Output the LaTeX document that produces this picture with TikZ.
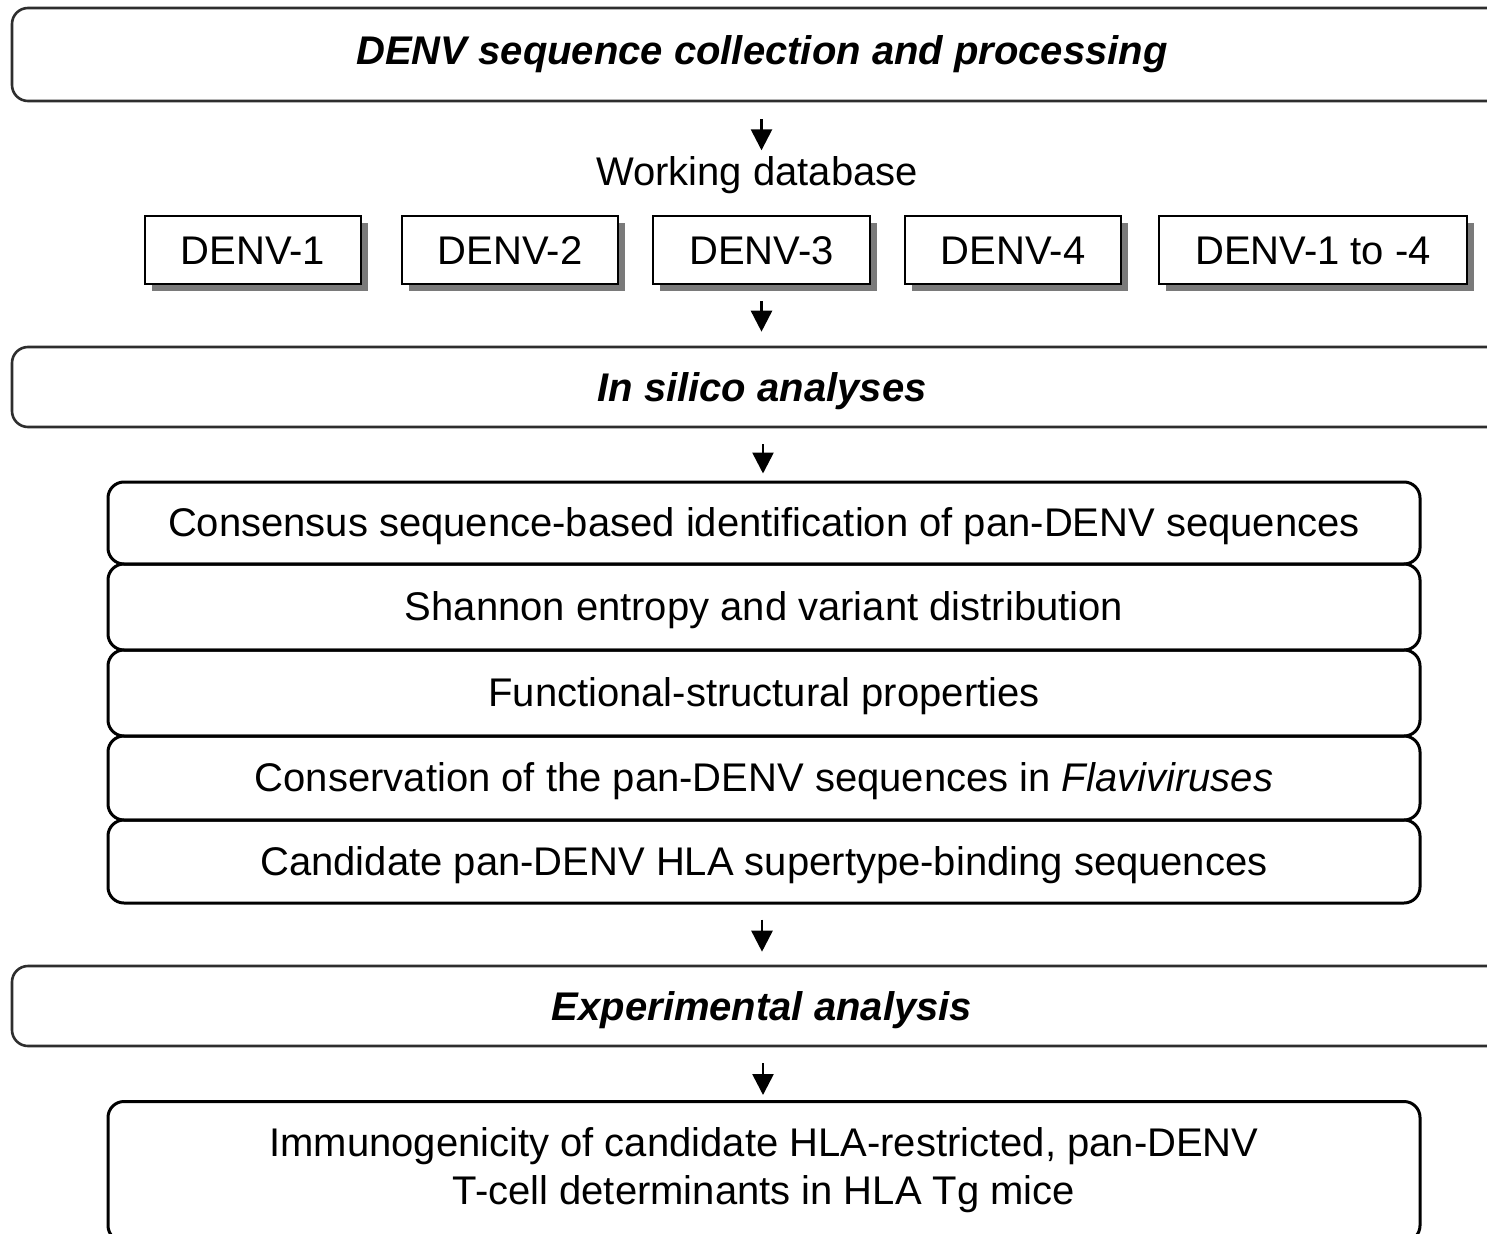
\documentclass[tikz,border=0pt]{standalone}
\usepackage{fontspec}
\setmainfont{Liberation Sans}
\usetikzlibrary{arrows.meta,shadows}
\tikzset{
  banner/.style={draw=black!82,line width=2.6pt,rounded corners=16pt,minimum width=1500pt,inner sep=0pt,
    font=\fontsize{40}{48}\selectfont\bfseries\itshape,text height=29pt,text depth=0pt},
  dbox/.style={draw=black,line width=2.6pt,fill=white,inner sep=0pt,minimum height=68pt,
    font=\fontsize{40}{48}\selectfont,text height=29pt,text depth=0pt,
    drop shadow={shadow xshift=7pt,shadow yshift=-7pt,fill=black!52,opacity=1}},
  sbox/.style={draw=black,line width=3pt,rounded corners=16pt,minimum width=1312pt,inner sep=0pt,
    font=\fontsize{40}{48}\selectfont,text height=29pt,text depth=0pt},
  plain/.style={inner sep=0pt,font=\fontsize{40}{48}\selectfont,text height=29pt,text depth=0pt},
  arr/.style={line width=2.6pt,-{Triangle[length=21pt,width=21pt]}}
}
\begin{document}
\begin{tikzpicture}[x=1pt,y=-1pt]
\useasboundingbox (0,0) rectangle (1487,1233);
\clip (0,0) rectangle (1487,1233);
\fill[white] (0,0) rectangle (1487,1233);
% banners
\node[banner,minimum height=93pt] (b1) at (762,54.5) {\raisebox{4.5pt}{DENV sequence collection and processing}};
\node[plain] (wd) at (757,171) {Working database};
\node[dbox,minimum width=216pt] (d1) at (253,250) {DENV-1};
\node[dbox,minimum width=216pt] (d2) at (510,250) {DENV-2};
\node[dbox,minimum width=217pt] (d3) at (761.5,250) {DENV-3};
\node[dbox,minimum width=216pt] (d4) at (1013,250) {DENV-4};
\node[dbox,minimum width=308pt] (d5) at (1313,250) {DENV-1 to -4};
\node[banner,minimum height=80pt] (b2) at (762,387) {In silico analyses};
% stack
\node[sbox,minimum height=82pt] (s1) at (764,523) {\raisebox{1.5pt}{Consensus sequence-based identification of pan-DENV sequences}};
\node[sbox,minimum height=86pt] (s2) at (764,607) {\raisebox{1.5pt}{Shannon entropy and variant distribution}};
\node[sbox,minimum height=86pt] (s3) at (764,693) {\raisebox{1.5pt}{Functional-structural properties}};
\node[sbox,minimum height=84pt] (s4) at (764,778) {\raisebox{1pt}{Conservation of the pan-DENV sequences in \textit{Flaviviruses}}};
\node[sbox,minimum height=83pt] (s5) at (764,861.5) {\raisebox{1pt}{Candidate pan-DENV HLA supertype-binding sequences}};
\node[banner,minimum height=80pt] (b3) at (762,1006) {Experimental analysis};
\node[sbox,minimum height=140pt,anchor=north] (im) at (764,1100)
  {\raisebox{9pt}{\begin{tabular}{@{}c@{}}Immunogenicity of candidate HLA-restricted, pan-DENV\\T-cell determinants in HLA Tg mice\end{tabular}}};
% arrows
\draw[arr,shorten <=17pt,shorten >=6pt] (b1.south -| d3.center) -- (wd.north -| d3.center);
\draw[arr,shorten <=16pt,shorten >=14pt] (d3.south) -- (b2.north -| d3.south);
\draw[arr,shorten <=16pt,shorten >=7pt] (b2.south -| 763,0) -- (s1.north -| 763,0);
\draw[arr,shorten <=15pt,shorten >=13pt] (s5.south -| 762,0) -- (b3.north -| 762,0);
\draw[arr,shorten <=16pt,shorten >=5pt] (b3.south -| 763,0) -- (im.north -| 763,0);
\end{tikzpicture}
\end{document}
